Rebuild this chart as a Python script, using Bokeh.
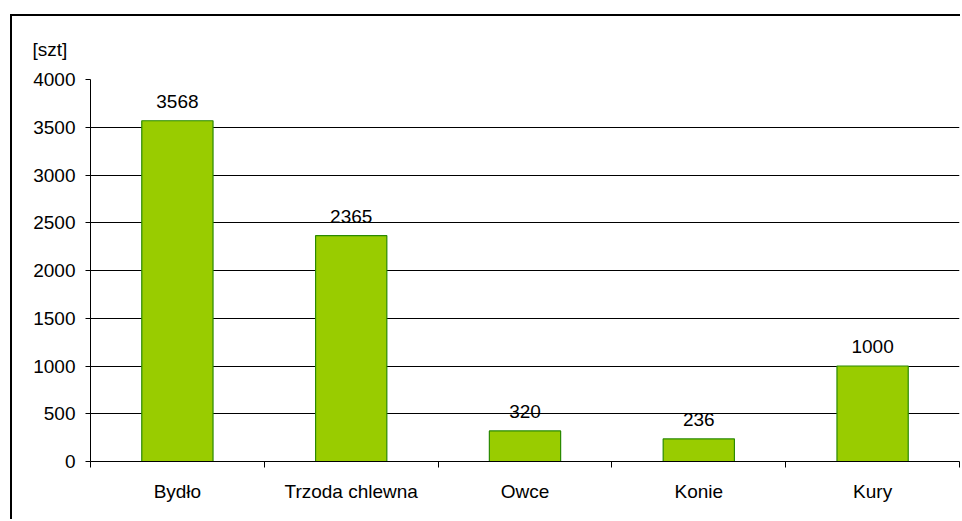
from bokeh.plotting import figure
from bokeh.models import ColumnDataSource, FixedTicker, Range1d, LabelSet
from bokeh.core.properties import value
from bokeh.embed import file_html
from bokeh.resources import INLINE

categories = ["Bydło", "Trzoda chlewna", "Owce", "Konie", "Kury"]
values = [3568, 2365, 320, 236, 1000]
y_ticks = [0, 500, 1000, 1500, 2000, 2500, 3000, 3500, 4000]
unit_label = "[szt]"

xs = [i + 0.5 for i in range(len(categories))]
src = ColumnDataSource(dict(x=xs, top=values, lab=[str(v) for v in values]))

FONT = "Liberation Sans"
FS = "19px"

p = figure(width=950, height=505, output_backend="svg", toolbar_location=None,
           x_range=Range1d(0, len(categories)), y_range=Range1d(0, 4000),
           min_border_left=78, min_border_right=3, min_border_top=63, min_border_bottom=60,
           margin=(14, 0, 0, 10),
           styles={"border-left": "2px solid black", "border-top": "2px solid black"})
p.outline_line_color = None
p.background_fill_color = "white"
p.border_fill_color = "white"

p.title.text = unit_label
p.title.align = "left"
p.title.offset = -58
p.title.standoff = 40
p.title.text_line_height = 0.6
p.title.text_font = FONT
p.title.text_font_size = FS
p.title.text_font_style = "normal"
p.title.text_color = "black"

p.vbar(x="x", top="top", width=0.41, bottom=0, source=src,
       fill_color="#99CC00", line_color="#2A8A00", line_width=1.2)

labels = LabelSet(x="x", y="top", text="lab", source=src, text_align="center",
                  text_baseline="bottom", y_offset=13, text_font=value(FONT),
                  text_font_size=value(FS), text_color=value("black"))
p.add_layout(labels)

# x axis
p.xaxis.ticker = FixedTicker(ticks=xs, minor_ticks=list(range(len(categories) + 1)))
p.xaxis.major_label_overrides = {x: c for x, c in zip(xs, categories)}
p.xaxis.major_tick_line_color = None
p.xaxis.minor_tick_line_color = "black"
p.xaxis.minor_tick_in = 0
p.xaxis.minor_tick_out = 6
p.xaxis.axis_line_color = "black"
p.xaxis.major_label_text_font = FONT
p.xaxis.major_label_text_font_size = FS
p.xaxis.major_label_text_color = "black"
p.xaxis.major_label_standoff = 13
p.xgrid.grid_line_color = None

# y axis
p.yaxis.ticker = FixedTicker(ticks=y_ticks)
p.yaxis.major_tick_in = 0
p.yaxis.major_tick_out = 5
p.yaxis.major_tick_line_color = "black"
p.yaxis.minor_tick_line_color = None
p.yaxis.axis_line_color = "black"
p.yaxis.major_label_text_font = FONT
p.yaxis.major_label_text_font_size = FS
p.yaxis.major_label_text_color = "black"
p.yaxis.major_label_standoff = 10
p.ygrid.grid_line_color = "black"
p.ygrid.grid_line_width = 1

open("out.html", "w").write(file_html(p, INLINE))
